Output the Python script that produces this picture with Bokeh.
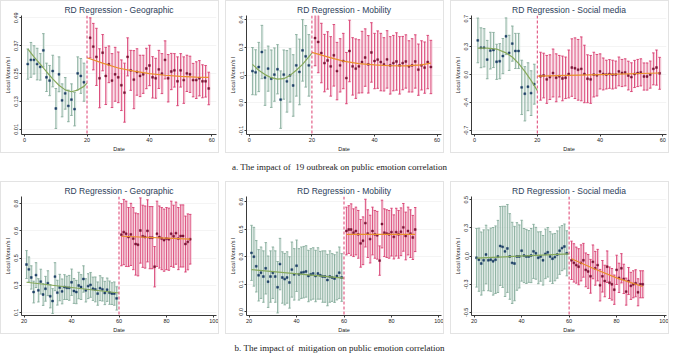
from bokeh.plotting import figure
from bokeh.layouts import column, row
from bokeh.models import Range1d, FixedTicker, Span, Div
from bokeh.embed import file_html
from bokeh.resources import INLINE

# ---------------- data ----------------
# Top row: outbreak (cutoff day 20)
g1_x = list(range(1, 20))
g1_y = [0.291, 0.309, 0.309, 0.291, 0.279, 0.350, 0.234, 0.220, 0.261, 0.100, 0.247, 0.135, 0.165, 0.111, 0.138, 0.097, 0.251, 0.240, 0.213]
g1_ci = [0.065, 0.075, 0.061, 0.068, 0.057, 0.072, 0.061, 0.065, 0.068, 0.086, 0.075, 0.071, 0.068, 0.068, 0.068, 0.072, 0.071, 0.075, 0.082]
r1_x = list(range(21, 60))
r1_y = [0.404, 0.366, 0.322, 0.230, 0.340, 0.240, 0.290, 0.220, 0.247, 0.234, 0.200, 0.168, 0.322, 0.264, 0.224, 0.257, 0.240, 0.247, 0.272, 0.285,
        0.234, 0.230, 0.268, 0.250, 0.309, 0.230, 0.259, 0.264, 0.217, 0.264, 0.222, 0.251, 0.247, 0.222, 0.222, 0.230, 0.217, 0.217, 0.186]
r1_ci = [0.086, 0.100, 0.123, 0.127, 0.078, 0.123, 0.079, 0.116, 0.116, 0.109, 0.109, 0.127, 0.082, 0.086, 0.125, 0.100, 0.089, 0.082, 0.087, 0.087,
         0.089, 0.086, 0.082, 0.086, 0.082, 0.102, 0.078, 0.072, 0.105, 0.072, 0.100, 0.078, 0.078, 0.072, 0.079, 0.076, 0.071, 0.068, 0.070]
g1_fx = [1, 3, 5, 7, 9, 11, 13, 15, 17, 19, 20]
g1_fy = [0.356, 0.322, 0.291, 0.258, 0.227, 0.200, 0.180, 0.172, 0.179, 0.195, 0.209]
r1_fx = [20, 25, 30, 35, 40, 45, 50, 55, 59]
r1_fy = [0.318, 0.295, 0.274, 0.261, 0.250, 0.243, 0.238, 0.235, 0.234]

g2_x = list(range(1, 20))
g2_y = [0.159, 0.153, 0.179, 0.252, 0.127, 0.171, 0.122, 0.142, 0.168, 0.020, 0.142, 0.109, 0.138, 0.089, 0.187, 0.155, 0.260, 0.231, 0.187]
g2_ci = [0.115, 0.110, 0.120, 0.130, 0.135, 0.110, 0.140, 0.130, 0.120, 0.140, 0.120, 0.150, 0.130, 0.150, 0.150, 0.160, 0.150, 0.150, 0.150]
r2_x = list(range(21, 59))
r2_y = [0.320, 0.301, 0.247, 0.198, 0.211, 0.182, 0.236, 0.159, 0.187, 0.208, 0.125, 0.257, 0.182, 0.171, 0.182, 0.203, 0.225, 0.192, 0.250,
        0.208, 0.215, 0.203, 0.192, 0.216, 0.187, 0.198, 0.206, 0.187, 0.198, 0.206, 0.182, 0.187, 0.206, 0.166, 0.187, 0.176, 0.203, 0.179]
r2_ci = [0.135, 0.150, 0.145, 0.140, 0.140, 0.145, 0.150, 0.140, 0.130, 0.135, 0.125, 0.150, 0.140, 0.145, 0.130, 0.150, 0.140, 0.140, 0.145,
         0.135, 0.140, 0.140, 0.130, 0.140, 0.140, 0.135, 0.140, 0.140, 0.130, 0.130, 0.125, 0.130, 0.130, 0.125, 0.120, 0.125, 0.130, 0.130]
g2_fx = [1, 3, 5, 7, 9, 11, 13, 15, 17, 19, 20]
g2_fy = [0.192, 0.163, 0.142, 0.127, 0.120, 0.122, 0.138, 0.163, 0.192, 0.228, 0.247]
r2_fx = [20, 25, 30, 35, 40, 45, 50, 55, 58]
r2_fy = [0.250, 0.228, 0.208, 0.195, 0.189, 0.185, 0.184, 0.189, 0.198]

g3_x = list(range(1, 20))
g3_y = [0.428, 0.336, 0.336, 0.188, 0.300, 0.308, 0.160, 0.168, 0.232, 0.480, 0.272, 0.388, 0.296, 0.296, -0.160, -0.240, -0.152, -0.232, -0.120]
g3_ci = [0.28, 0.25, 0.24, 0.24, 0.23, 0.22, 0.22, 0.22, 0.22, 0.23, 0.22, 0.22, 0.22, 0.22, 0.34, 0.34, 0.30, 0.28, 0.25]
r3_x = list(range(21, 60))
r3_y = [-0.020, -0.012, -0.060, -0.032, 0.020, -0.040, -0.020, -0.048, -0.040, 0.008, 0.088, 0.080, 0.060, 0.072, 0.008, -0.052, -0.060, 0.000, -0.008, 0.040,
        0.008, 0.000, 0.008, 0.000, 0.000, 0.040, 0.020, 0.028, -0.012, -0.032, 0.008, 0.020, 0.028, -0.024, -0.024, 0.000, 0.072, 0.088, 0.016]
r3_ci = [0.30, 0.28, 0.30, 0.28, 0.30, 0.30, 0.26, 0.28, 0.26, 0.30, 0.36, 0.38, 0.38, 0.40, 0.36, 0.30, 0.30, 0.28, 0.26, 0.22,
         0.20, 0.18, 0.18, 0.18, 0.17, 0.18, 0.17, 0.17, 0.18, 0.18, 0.17, 0.17, 0.17, 0.17, 0.17, 0.17, 0.20, 0.22, 0.20]
g3_fx = [1, 4, 7, 10, 12, 14, 16, 18, 20]
g3_fy = [0.332, 0.332, 0.320, 0.272, 0.220, 0.140, 0.040, -0.072, -0.200]
r3_fx = [20, 40, 59]
r3_fy = [-0.020, 0.000, 0.020]

# Bottom row: mitigation (cutoff day 60)
g4_x = list(range(21, 60))
g4_y = [0.408, 0.377, 0.325, 0.231, 0.340, 0.242, 0.298, 0.215, 0.252, 0.288, 0.204, 0.173, 0.330, 0.227, 0.260, 0.235, 0.263, 0.258, 0.258, 0.294,
        0.238, 0.231, 0.273, 0.263, 0.315, 0.242, 0.269, 0.277, 0.252, 0.248, 0.221, 0.256, 0.248, 0.225, 0.246, 0.227, 0.221, 0.221, 0.190]
g4_ci = [0.090, 0.080, 0.075, 0.070, 0.080, 0.075, 0.080, 0.070, 0.080, 0.080, 0.075, 0.080, 0.090, 0.080, 0.085, 0.080, 0.080, 0.075, 0.080, 0.085,
         0.080, 0.075, 0.085, 0.080, 0.085, 0.075, 0.080, 0.080, 0.075, 0.080, 0.075, 0.080, 0.075, 0.075, 0.075, 0.075, 0.070, 0.075, 0.075]
r4_x = list(range(61, 91))
r4_y = [0.600, 0.617, 0.606, 0.585, 0.602, 0.575, 0.540, 0.535, 0.627, 0.590, 0.585, 0.625, 0.581, 0.581, 0.394,
        0.606, 0.585, 0.575, 0.565, 0.575, 0.571, 0.606, 0.590, 0.610, 0.575, 0.592, 0.592, 0.540, 0.554, 0.571]
r4_ci = [0.20, 0.21, 0.21, 0.19, 0.20, 0.20, 0.20, 0.20, 0.21, 0.20, 0.20, 0.20, 0.20, 0.20, 0.13,
         0.21, 0.20, 0.20, 0.20, 0.20, 0.20, 0.21, 0.20, 0.20, 0.20, 0.20, 0.20, 0.18, 0.18, 0.16]
g4_fx = [21, 60]
g4_fy = [0.294, 0.225]
r4_fx = [61, 90]
r4_fy = [0.590, 0.571]

g5_x = list(range(21, 60))
g5_y = [0.321, 0.300, 0.248, 0.199, 0.213, 0.192, 0.237, 0.164, 0.192, 0.213, 0.192, 0.134, 0.260, 0.187, 0.178, 0.187, 0.160, 0.230, 0.204, 0.251,
        0.204, 0.213, 0.216, 0.220, 0.195, 0.204, 0.209, 0.195, 0.209, 0.199, 0.192, 0.192, 0.173, 0.192, 0.187, 0.181, 0.195, 0.213, 0.187]
g5_ci = [0.15, 0.16, 0.14, 0.14, 0.14, 0.14, 0.14, 0.14, 0.14, 0.14, 0.14, 0.14, 0.14, 0.14, 0.14, 0.14, 0.14, 0.15, 0.14, 0.14,
         0.14, 0.14, 0.14, 0.14, 0.14, 0.14, 0.14, 0.14, 0.14, 0.13, 0.14, 0.14, 0.14, 0.14, 0.13, 0.13, 0.13, 0.14, 0.13]
r5_x = list(range(61, 91))
r5_y = [0.440, 0.448, 0.448, 0.431, 0.440, 0.422, 0.373, 0.387, 0.483, 0.426, 0.396, 0.440, 0.422, 0.417, 0.279,
        0.478, 0.431, 0.426, 0.422, 0.434, 0.408, 0.434, 0.422, 0.436, 0.460, 0.413, 0.440, 0.426, 0.405, 0.448]
r5_ci = [0.13, 0.13, 0.14, 0.13, 0.13, 0.13, 0.13, 0.13, 0.13, 0.13, 0.13, 0.13, 0.13, 0.13, 0.08,
         0.13, 0.13, 0.13, 0.13, 0.13, 0.12, 0.13, 0.13, 0.13, 0.13, 0.13, 0.13, 0.13, 0.12, 0.12]
g5_fx = [21, 60]
g5_fy = [0.230, 0.183]
r5_fx = [61, 90]
r5_fy = [0.422, 0.422]

g6_x = list(range(21, 60))
g6_y = [-0.016, -0.033, -0.067, -0.038, 0.013, -0.038, -0.033, -0.047, -0.033, -0.004, 0.089, 0.081, 0.041, 0.067, -0.004, -0.061, -0.067, -0.004, -0.004, 0.047,
        0.004, -0.004, -0.004, 0.004, 0.041, 0.024, -0.016, -0.004, -0.038, 0.019, 0.033, -0.004, -0.024, -0.010, 0.013, 0.047, 0.070, 0.084, 0.024]
g6_ci = [0.26, 0.28, 0.28, 0.27, 0.26, 0.27, 0.28, 0.30, 0.30, 0.32, 0.35, 0.36, 0.40, 0.39, 0.38, 0.36, 0.33, 0.30, 0.28, 0.27,
         0.24, 0.24, 0.23, 0.24, 0.24, 0.23, 0.23, 0.22, 0.22, 0.22, 0.22, 0.22, 0.22, 0.21, 0.21, 0.21, 0.20, 0.20, 0.20]
r6_x = list(range(61, 92))
r6_y = [-0.038, -0.061, -0.081, -0.095, -0.061, -0.038, -0.123, -0.137, -0.180, -0.052, -0.109, -0.081, -0.259, -0.180, -0.222, -0.095,
        -0.237, -0.251, -0.299, -0.123, -0.194, -0.109, -0.203, -0.316, -0.222, -0.265, -0.251, -0.242, -0.322, -0.251, -0.251]
r6_ci = [0.17, 0.17, 0.16, 0.16, 0.16, 0.15, 0.15, 0.15, 0.15, 0.15, 0.15, 0.14, 0.14, 0.14, 0.14, 0.14,
         0.14, 0.14, 0.13, 0.13, 0.13, 0.13, 0.13, 0.12, 0.12, 0.12, 0.12, 0.12, 0.12, 0.12, 0.12]
g6_fx = [21, 60]
g6_fy = [-0.018, 0.018]
r6_fx = [61, 70, 80, 91]
r6_fy = [-0.024, -0.109, -0.194, -0.271]

# axis ticks and labels
top_xticks = [0, 20, 40, 60]
bot_xticks = [20, 40, 60, 80, 100]
y1_ticks = [0.01, 0.13, 0.25, 0.37, 0.49]
y1_labels = ["0.01", "0.13", "0.25", "0.37", "0.49"]
y2_ticks = [-0.13, 0.005, 0.14, 0.275, 0.41]
y2_labels = ["-0.1", "0.0", "0.1", "0.3", "0.4"]
y3_ticks = [-0.70, -0.35, 0.0, 0.35, 0.70]
y3_labels = ["-0.7", "-0.4", "0.0", "0.3", "0.7"]
y4_ticks = [0.1, 0.275, 0.45, 0.625, 0.8]
y4_labels = ["0.1", "0.3", "0.5", "0.6", "0.8"]
y5_ticks = [0.0, 0.15, 0.3, 0.45, 0.6]
y5_labels = ["0.0", "0.1", "0.3", "0.5", "0.6"]
y6_ticks = [-0.5, -0.25, 0.0, 0.25, 0.5]
y6_labels = ["-0.5", "-0.3", "0.0", "0.3", "0.5"]

titles = ["RD Regression - Geographic", "RD Regression - Mobility", "RD Regression - Social media"]
caption_a = "a. The impact of  19 outbreak on public emotion correlation"
caption_b = "b. The impact of  mitigation on public emotion correlation"

# ---------------- styling ----------------
W, H = 219, 153
FONT = "Liberation Sans"
G_LINE, G_FILL, G_PT, G_FIT = "#86ab9b", "#cfe0d8", "#1d3f66", "#86a85a"
R_LINE, R_FILL, R_PT, R_FIT = "#d83d70", "#f2bccd", "#7c1234", "#e8902c"
CUT = "#e0507c"


def bars(p, xs, ys, cis, line_c, fill_c, pt_c, cap):
    lo = [y - c for y, c in zip(ys, cis)]
    hi = [y + c for y, c in zip(ys, cis)]
    xb = [x + cap * 0.75 for x in xs]
    p.vbar(x=xb, width=cap * 1.2, top=hi, bottom=lo, fill_color=fill_c, line_color=None, fill_alpha=0.7)
    p.segment(x0=xs, y0=lo, x1=xs, y1=hi, line_color=line_c, line_width=0.9)
    p.segment(x0=[x - cap for x in xs], y0=hi, x1=[x + cap for x in xs], y1=hi, line_color=line_c, line_width=0.9)
    p.segment(x0=[x - cap for x in xs], y0=lo, x1=[x + cap for x in xs], y1=lo, line_color=line_c, line_width=0.9)
    p.scatter(x=xs, y=ys, marker="square", size=1.9, fill_color=pt_c, line_color=pt_c, line_width=0.5)


def panel(title, g, r, gf, rf, cut, xr, yr, xt, yt, yl, cap):
    p = figure(width=W, height=H, output_backend="svg", toolbar_location=None,
               x_range=Range1d(*xr), y_range=Range1d(*yr), title=title,
               min_border_left=4, min_border_right=4, min_border_top=2, min_border_bottom=2,
               background_fill_color="white", border_fill_color="white")
    p.styles = {"border": "1px solid #e3e3e3"}
    p.outline_line_color = None
    p.title.align = "center"
    p.title.text_font = FONT
    p.title.text_font_size = "8.5px"
    p.title.text_font_style = "normal"
    p.title.text_color = "#2c3e5a"
    p.title.standoff = 2
    p.xgrid.visible = False
    p.ygrid.grid_line_color = "#ececec"
    p.ygrid.grid_line_width = 0.6
    p.ygrid.ticker = FixedTicker(ticks=yt)
    p.xaxis.ticker = FixedTicker(ticks=xt)
    p.yaxis.ticker = FixedTicker(ticks=yt)
    p.yaxis.major_label_overrides = {t: s for t, s in zip(yt, yl)}
    p.yaxis.major_label_orientation = "vertical"
    p.xaxis.axis_label = "Date"
    p.yaxis.axis_label = "Local Moran's I"
    for ax in (p.xaxis[0], p.yaxis[0]):
        ax.axis_label_text_font = FONT
        ax.axis_label_text_font_size = "5.5px"
        ax.axis_label_text_font_style = "normal"
        ax.axis_label_standoff = 1
        ax.major_label_text_font = FONT
        ax.major_label_text_font_size = "5.5px"
        ax.major_label_standoff = 1
        ax.major_tick_out = 2
        ax.major_tick_in = 0
        ax.minor_tick_line_color = None
        ax.axis_line_color = "#3a3a3a"
        ax.major_tick_line_color = "#3a3a3a"
        ax.major_label_text_color = "#222222"
        ax.axis_label_text_color = "#222222"
    bars(p, g[0], g[1], g[2], G_LINE, G_FILL, G_PT, cap)
    bars(p, r[0], r[1], r[2], R_LINE, R_FILL, R_PT, cap)
    p.line(gf[0], gf[1], line_color=G_FIT, line_width=1.2)
    p.line(rf[0], rf[1], line_color=R_FIT, line_width=1.2)
    p.add_layout(Span(location=cut, dimension="height", line_color=CUT, line_width=1.1, line_dash="3 2"))
    return p


p1 = panel(titles[0], (g1_x, g1_y, g1_ci), (r1_x, r1_y, r1_ci), (g1_fx, g1_fy), (r1_fx, r1_fy), 20,
           (-1.0, 61.5), (-0.012, 0.50), top_xticks, y1_ticks, y1_labels, 0.4)
p2 = panel(titles[1], (g2_x, g2_y, g2_ci), (r2_x, r2_y, r2_ci), (g2_fx, g2_fy), (r2_fx, r2_fy), 20,
           (-0.9, 61.4), (-0.15, 0.43), top_xticks, y2_ticks, y2_labels, 0.4)
p3 = panel(titles[2], (g3_x, g3_y, g3_ci), (r3_x, r3_y, r3_ci), (g3_fx, g3_fy), (r3_fx, r3_fy), 20,
           (-1.0, 61.2), (-0.75, 0.74), top_xticks, y3_ticks, y3_labels, 0.4)
p4 = panel(titles[0], (g4_x, g4_y, g4_ci), (r4_x, r4_y, r4_ci), (g4_fx, g4_fy), (r4_fx, r4_fy), 60,
           (18.9, 101.1), (0.08, 0.846), bot_xticks, y4_ticks, y4_labels, 0.5)
p5 = panel(titles[1], (g5_x, g5_y, g5_ci), (r5_x, r5_y, r5_ci), (g5_fx, g5_fy), (r5_fx, r5_fy), 60,
           (18.9, 101.1), (-0.02, 0.628), bot_xticks, y5_ticks, y5_labels, 0.5)
p6 = panel(titles[2], (g6_x, g6_y, g6_ci), (r6_x, r6_y, r6_ci), (g6_fx, g6_fy), (r6_fx, r6_fy), 60,
           (18.9, 101.0), (-0.528, 0.528), bot_xticks, y6_ticks, y6_labels, 0.5)

cap_style = {"font-family": "Liberation Serif", "font-size": "9px", "color": "#222",
             "white-space": "pre", "text-align": "center", "width": "669px", "padding-top": "3px"}
d1 = Div(text=caption_a, width=669, height=18, styles=cap_style)
d2 = Div(text=caption_b, width=669, height=18, styles=cap_style)

layout = column(row(p1, p2, p3, spacing=6), d1, row(p4, p5, p6, spacing=6), d2, spacing=0)

open("out.html", "w").write(file_html(layout, INLINE))
